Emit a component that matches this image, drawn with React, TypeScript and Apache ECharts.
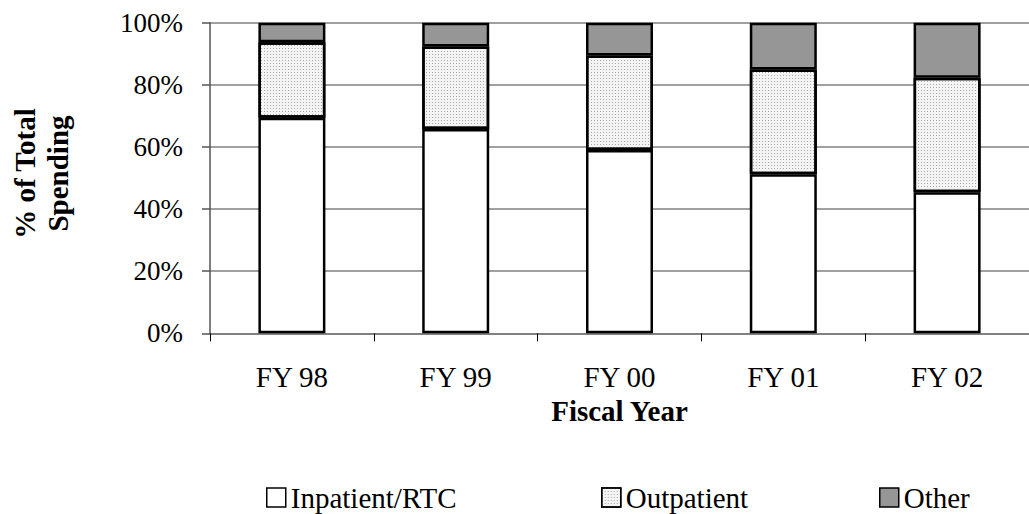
import React, { useEffect, useRef } from "react";
import * as echarts from "echarts";

const categories = ["FY 98", "FY 99", "FY 00", "FY 01", "FY 02"];
const inpatient = [69.4, 65.8, 59.0, 51.2, 45.4];
const outpatient = [24.3, 26.5, 30.4, 33.7, 36.9];
const other = [6.3, 7.7, 10.6, 15.1, 17.7];
const seriesNames = ["Inpatient/RTC", "Outpatient", "Other"];
const yTicks = [0, 20, 40, 60, 80, 100];

const FONT = "Liberation Serif";

export default function App() {
  const ref = useRef<HTMLDivElement>(null);
  useEffect(() => {
    document.body.style.margin = "0";
    const chart = echarts.init(ref.current!, null, { renderer: "svg" });
    const border = { borderColor: "#000", borderWidth: 2.5 };
    const legendCommon = {
      top: 483,
      padding: 0,
      icon: "rect",
      itemWidth: 19,
      itemHeight: 19,
      itemGap: 4,
      textStyle: { fontFamily: FONT, fontSize: 29, color: "#000" },
      itemStyle: { borderColor: "#000", borderWidth: 1.5 },
    };
    chart.setOption({
      animation: false,
      backgroundColor: "#fff",
      textStyle: { fontFamily: FONT, fontSize: 27 },
      grid: { left: 210, top: 22.7, width: 830, height: 310.6, containLabel: false },
      legend: [
        { ...legendCommon, data: [seriesNames[0]], left: 266 },
        { ...legendCommon, data: [seriesNames[1]], left: 601 },
        { ...legendCommon, data: [seriesNames[2]], left: 879 },
      ],
      xAxis: {
        type: "category",
        data: categories,
        name: "Fiscal Year",
        nameLocation: "middle",
        nameGap: 57,
        nameTextStyle: { fontFamily: FONT, fontSize: 29, fontWeight: "bold", color: "#000" },
        axisLine: { lineStyle: { color: "#777", width: 1.5 } },
        axisTick: { show: true, length: 8, lineStyle: { color: "#000", width: 1 } },
        axisLabel: { fontFamily: FONT, fontSize: 29, color: "#000", margin: 29 },
      },
      yAxis: {
        type: "value",
        min: 0,
        max: 100,
        interval: 20,
        axisLine: { show: true, lineStyle: { color: "#555", width: 1.5 } },
        axisTick: { show: true, length: 8, lineStyle: { color: "#555", width: 1.5 } },
        axisLabel: {
          fontFamily: FONT,
          fontSize: 27,
          color: "#000",
          margin: 27,
          formatter: (v: number) => (yTicks.includes(v) ? v + "%" : ""),
        },
        splitLine: { show: true, lineStyle: { color: "#808080", width: 1.5 } },
      },
      graphic: [
        {
          type: "text",
          x: 41,
          y: 173.5,
          rotation: Math.PI / 2,
          style: {
            text: "% of Total\nSpending",
            fontFamily: FONT,
            fontSize: 29,
            fontWeight: "bold",
            fill: "#000",
            align: "center",
            verticalAlign: "middle",
            lineHeight: 33,
          },
        },
      ],
      series: [
        {
          name: seriesNames[0],
          type: "bar",
          stack: "s",
          barWidth: 67,
          data: inpatient,
          itemStyle: { color: "#fff", ...border },
        },
        {
          name: seriesNames[1],
          type: "bar",
          stack: "s",
          barWidth: 67,
          data: outpatient,
          itemStyle: {
            color: "#f4f4f4",
            ...border,
            decal: {
              symbol: "rect",
              symbolSize: 1,
              color: "#a8a8a8",
              dashArrayX: [1, 2],
              dashArrayY: [1, 2],
              rotation: 0,
            },
          },
        },
        {
          name: seriesNames[2],
          type: "bar",
          stack: "s",
          barWidth: 67,
          data: other,
          itemStyle: { color: "#969696", ...border },
        },
      ],
    });
    return () => chart.dispose();
  }, []);
  return <div ref={ref} style={{ width: 1029, height: 514 }} />;
}
